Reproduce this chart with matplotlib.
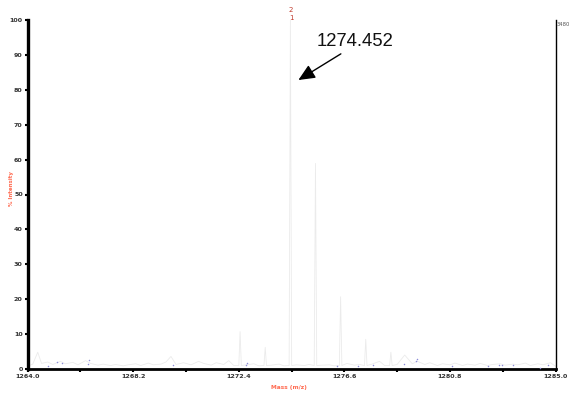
import matplotlib
matplotlib.use("Agg")
import matplotlib.pyplot as plt
import numpy as np

# ---- data ----
peak_mass = [1272.45, 1273.45, 1274.452, 1275.45, 1276.45, 1277.45, 1278.45]
peak_int = [10.7, 6.2, 100.0, 58.9, 20.7, 8.5, 4.8]

noise_mass = [1264.0, 1264.2, 1264.4, 1264.55, 1264.8, 1265.0, 1265.3, 1265.5, 1265.8,
              1266.0, 1266.3, 1266.5, 1266.8, 1267.0, 1267.3, 1267.5, 1267.8, 1268.0,
              1268.3, 1268.5, 1268.8, 1269.0, 1269.3, 1269.5, 1269.7, 1269.9, 1270.2,
              1270.5, 1270.8, 1271.0, 1271.3, 1271.5, 1271.8, 1272.0, 1272.2, 1272.7,
              1273.0, 1273.2, 1273.7, 1274.0, 1274.2, 1274.7, 1275.0, 1275.2, 1275.7,
              1276.0, 1276.2, 1276.7, 1277.0, 1277.2, 1277.7, 1278.0, 1278.2, 1278.7,
              1279.0, 1279.3, 1279.5, 1279.8, 1280.0, 1280.3, 1280.5, 1280.8, 1281.0,
              1281.3, 1281.5, 1281.8, 1282.0, 1282.3, 1282.5, 1282.8, 1283.0, 1283.3,
              1283.5, 1283.8, 1284.0, 1284.3, 1284.5, 1284.8, 1285.0]
noise_int = [0.8, 1.4, 4.8, 1.6, 2.0, 1.3, 2.2, 1.5, 1.9,
             1.2, 2.4, 1.6, 1.1, 1.4, 1.0, 1.3, 0.9, 1.2,
             1.5, 1.0, 1.7, 1.2, 1.4, 2.0, 3.6, 1.3, 1.8,
             1.2, 2.2, 1.6, 1.1, 1.8, 1.3, 2.4, 1.0, 1.2,
             1.5, 0.9, 1.1, 1.4, 0.9, 1.2, 1.0, 1.3, 1.1,
             1.2, 0.9, 1.6, 1.1, 1.3, 1.4, 2.2, 1.0, 1.3,
             4.0, 1.5, 2.2, 1.3, 1.8, 1.0, 1.5, 1.2, 1.7,
             1.0, 1.4, 1.1, 1.6, 1.0, 1.3, 1.5, 1.1, 1.4,
             1.2, 1.7, 1.0, 1.5, 1.2, 1.8, 0.8]

dot_mass = [1264.8, 1265.15, 1265.37, 1266.38, 1266.45, 1269.77, 1272.73, 1272.70,
            1276.29, 1277.15, 1277.72, 1278.98, 1279.45, 1279.5, 1280.9, 1282.33,
            1282.77, 1282.87, 1283.29, 1284.37, 1284.7]
dot_int = [1.0, 2.0, 1.7, 1.3, 2.6, 1.2, 1.6, 1.2,
           0.9, 0.9, 1.1, 1.3, 2.4, 2.8, 1.0, 0.8,
           1.1, 1.2, 1.2, 0.4, 1.2]

x_ticks = [1264.0, 1268.2, 1272.4, 1276.6, 1280.8, 1285.0]
y_ticks = [0, 10, 20, 30, 40, 50, 60, 70, 80, 90, 100]

# ---- build profile trace ----
pts = list(zip(noise_mass, noise_int))
hw = 0.05
for m, h in zip(peak_mass, peak_int):
    pts += [(m - hw, 1.0), (m, h), (m + hw, 1.0)]
pts.sort()
px = [p[0] for p in pts]
py = [p[1] for p in pts]

fig = plt.figure(figsize=(5.7, 3.93), dpi=100)
ax = fig.add_axes([27.7 / 570, 1 - 369 / 393, (555.5 - 27.7) / 570, (369 - 20) / 393])

ax.plot(px, py, color="#ebebeb", lw=0.6, zorder=2)
ax.scatter(dot_mass, dot_int, s=1.2, color="#8c8cd8", zorder=3, linewidths=0)

ax.set_xlim(1264.0, 1285.0)
ax.set_ylim(0, 100)

ax.spines["top"].set_visible(False)
ax.spines["left"].set_linewidth(2.4)
ax.spines["bottom"].set_linewidth(2.0)
ax.spines["right"].set_linewidth(1.0)

ax.set_xticks(x_ticks)
ax.set_xticklabels([f"{v:.1f}" for v in x_ticks])
ax.set_xticks([(a + b) / 2 for a, b in zip(x_ticks[:-1], x_ticks[1:])], minor=True)
ax.set_yticks(y_ticks)
ax.set_yticklabels([str(v) for v in y_ticks])

ax.tick_params(axis="both", which="major", length=2.5, width=1.5, direction="out",
               labelsize=4.6, labelcolor="#333333", pad=1)
ax.tick_params(axis="x", which="minor", length=2.5, width=1.5, direction="out")
for lab in ax.get_xticklabels() + ax.get_yticklabels():
    lab.set_fontweight("bold")
ax.tick_params(axis="y", which="both", right=False)

fig.text(12 / 570, 1 - 188 / 393, "% Intensity", rotation=90, ha="center", va="center",
         fontsize=4.0, color="#ff6a50", fontweight="bold")
fig.text(289 / 570, 1 - 387 / 393, "Mass (m/z)", ha="center", va="center",
         fontsize=4.2, color="#ff6a50", fontweight="bold")
fig.text(557 / 570, 1 - 24 / 393, "3480", ha="left", va="center",
         fontsize=3.8, color="#555555")

# peak labels above main peak
fig.text(291 / 570, 1 - 10 / 393, "2", ha="center", va="center", fontsize=5, color="#c0392b")
fig.text(291 / 570, 1 - 18 / 393, "1", ha="center", va="center", fontsize=5, color="#c0392b")

# annotation
fig.text(355 / 570, 1 - 42 / 393, "1274.452", ha="center", va="center",
         fontsize=13.3, family="Liberation Sans", color="#111111")
ax.annotate("", xy=(1274.77, 82.8), xytext=(1276.46, 90.3),
            arrowprops=dict(arrowstyle="-|>,head_length=1.0,head_width=0.45",
                            color="black", lw=1.0, shrinkA=0, shrinkB=0))

fig.savefig("out.png", dpi=100)
